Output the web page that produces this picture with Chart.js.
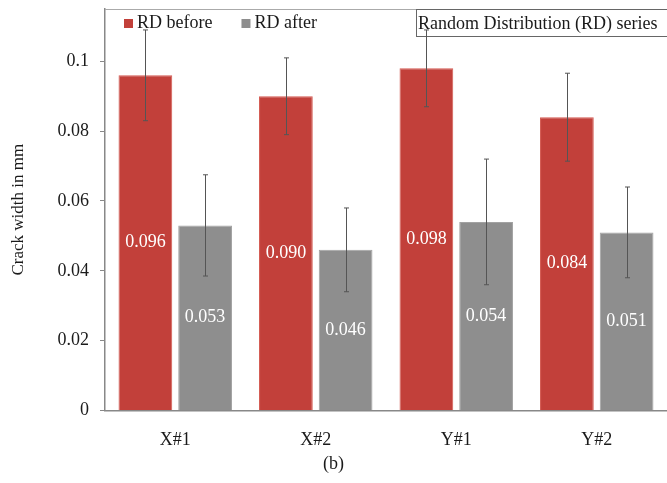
<!DOCTYPE html>
<html>
<head>
<meta charset="utf-8">
<script src="https://cdn.jsdelivr.net/npm/chart.js@4.4.0/dist/chart.umd.min.js"></script>
<style>
    html, body { margin: 0; padding: 0; background: #fff; }
    #wrap { width: 667px; height: 483px; }
</style>
</head>
<body>
<div id="wrap"><canvas id="crackChart"></canvas></div>
<script>
const categories = ['X#1', 'X#2', 'Y#1', 'Y#2'];
const rdBefore = [0.096, 0.090, 0.098, 0.084];
const rdAfter = [0.053, 0.046, 0.054, 0.051];
const rdBeforeErr = [0.013, 0.011, 0.011, 0.0126];
const rdAfterErr = [0.0145, 0.012, 0.018, 0.013];
const yTicks = [0, 0.02, 0.04, 0.06, 0.08, 0.1];
const yTickLabels = ['0', '0.02', '0.04', '0.06', '0.08', '0.1'];

const SERIF = "'Liberation Serif', 'Times New Roman', serif";
Chart.defaults.font.family = SERIF;
Chart.defaults.color = '#1a1a1a';

// error bars on top of each bar
const errorBars = {
    id: 'errorBars',
    afterDatasetsDraw(chart) {
        const ctx = chart.ctx;
        const yScale = chart.scales.y;
        ctx.save();
        ctx.strokeStyle = '#555';
        ctx.lineWidth = 1;
        chart.data.datasets.forEach((ds, i) => {
            const meta = chart.getDatasetMeta(i);
            meta.data.forEach((bar, j) => {
                const v = ds.data[j];
                const e = ds.errors[j];
                const x = Math.round(bar.x) + 0.5;
                const yTop = yScale.getPixelForValue(v + e);
                const yBot = yScale.getPixelForValue(v - e);
                ctx.beginPath();
                ctx.moveTo(x, yTop);
                ctx.lineTo(x, yBot);
                ctx.moveTo(x - 2.5, yTop);
                ctx.lineTo(x + 2.5, yTop);
                ctx.moveTo(x - 2.5, yBot);
                ctx.lineTo(x + 2.5, yBot);
                ctx.stroke();
            });
        });
        ctx.restore();
    }
};

// white value labels centred in the bars
const valueLabels = {
    id: 'valueLabels',
    afterDatasetsDraw(chart) {
        const ctx = chart.ctx;
        ctx.save();
        ctx.font = `18px ${SERIF}`;
        ctx.fillStyle = '#fff';
        ctx.textAlign = 'center';
        ctx.textBaseline = 'middle';
        chart.data.datasets.forEach((ds, i) => {
            chart.getDatasetMeta(i).data.forEach((bar, j) => {
                ctx.fillText(ds.data[j].toFixed(3), bar.x, (bar.y + bar.base) / 2);
            });
        });
        ctx.restore();
    }
};

// frame top line, series box and legend inside the plot
const decorations = {
    id: 'decorations',
    beforeDatasetsDraw(chart) {
        const ctx = chart.ctx;
        const area = chart.chartArea;
        ctx.save();
        ctx.strokeStyle = '#aaa';
        ctx.lineWidth = 1;
        ctx.beginPath();
        ctx.moveTo(area.left, area.top + 0.5);
        ctx.lineTo(area.right, area.top + 0.5);
        ctx.stroke();

        // series box
        ctx.fillStyle = '#fff';
        ctx.fillRect(416, area.top, area.right - 416 + 5, 27);
        ctx.strokeStyle = '#666';
        ctx.strokeRect(416.5, area.top + 0.5, area.right - 416 + 5, 27);
        ctx.fillStyle = '#1a1a1a';
        ctx.font = `18px ${SERIF}`;
        ctx.textAlign = 'left';
        ctx.textBaseline = 'alphabetic';
        ctx.fillText('Random Distribution (RD) series', 418, area.top + 20);

        // legend
        let x = area.left + 19;
        chart.data.datasets.forEach(ds => {
            ctx.fillStyle = ds.backgroundColor;
            ctx.fillRect(x, area.top + 10, 9, 9);
            ctx.fillStyle = '#1a1a1a';
            ctx.fillText(ds.label, x + 13, area.top + 19);
            x += 13 + ctx.measureText(ds.label).width + 29;
        });
        ctx.restore();
    }
};

new Chart(document.getElementById('crackChart'), {
    type: 'bar',
    data: {
        labels: categories,
        datasets: [
            {
                label: 'RD before',
                data: rdBefore,
                errors: rdBeforeErr,
                backgroundColor: '#C2403A',
                borderColor: '#D45A52',
                borderWidth: 1,
                categoryPercentage: 0.85,
                barPercentage: 0.9
            },
            {
                label: 'RD after',
                data: rdAfter,
                errors: rdAfterErr,
                backgroundColor: '#8E8E8E',
                borderColor: '#A2A2A2',
                borderWidth: 1,
                categoryPercentage: 0.85,
                barPercentage: 0.9
            }
        ]
    },
    options: {
        responsive: true,
        maintainAspectRatio: false,
        animation: false,
        layout: { padding: { top: 9, left: 0, right: 0, bottom: 0 } },
        plugins: {
            legend: { display: false },
            tooltip: { enabled: false },
            title: {
                display: true,
                text: '(b)',
                position: 'bottom',
                color: '#1a1a1a',
                font: { size: 18, weight: 'normal', lineHeight: 1.2 },
                padding: { top: 0, bottom: 8 }
            }
        },
        scales: {
            x: {
                grid: { display: false, drawTicks: false },
                border: { color: '#888', width: 1.5 },
                ticks: { font: { size: 18 }, padding: 19, color: '#1a1a1a' },
                afterFit(scale) { scale.height = 43; }
            },
            y: {
                min: 0,
                max: 0.115,
                afterBuildTicks(scale) {
                    scale.ticks = yTicks.map(v => ({ value: v }));
                },
                grid: { drawOnChartArea: false, drawTicks: true, tickLength: 5, color: '#888' },
                border: { color: '#888', width: 1.5 },
                ticks: {
                    font: { size: 18 },
                    padding: 11,
                    color: '#1a1a1a',
                    callback: (value, index) => yTickLabels[index]
                },
                title: {
                    display: true,
                    text: 'Crack width in mm',
                    color: '#1a1a1a',
                    font: { size: 17 },
                    padding: { top: 8, bottom: 0 }
                },
                afterFit(scale) {
                    scale.width = 105;
                    scale.paddingTop = 0;
                    scale.paddingBottom = 0;
                }
            }
        }
    },
    plugins: [decorations, valueLabels, errorBars]
});
</script>
</body>
</html>
